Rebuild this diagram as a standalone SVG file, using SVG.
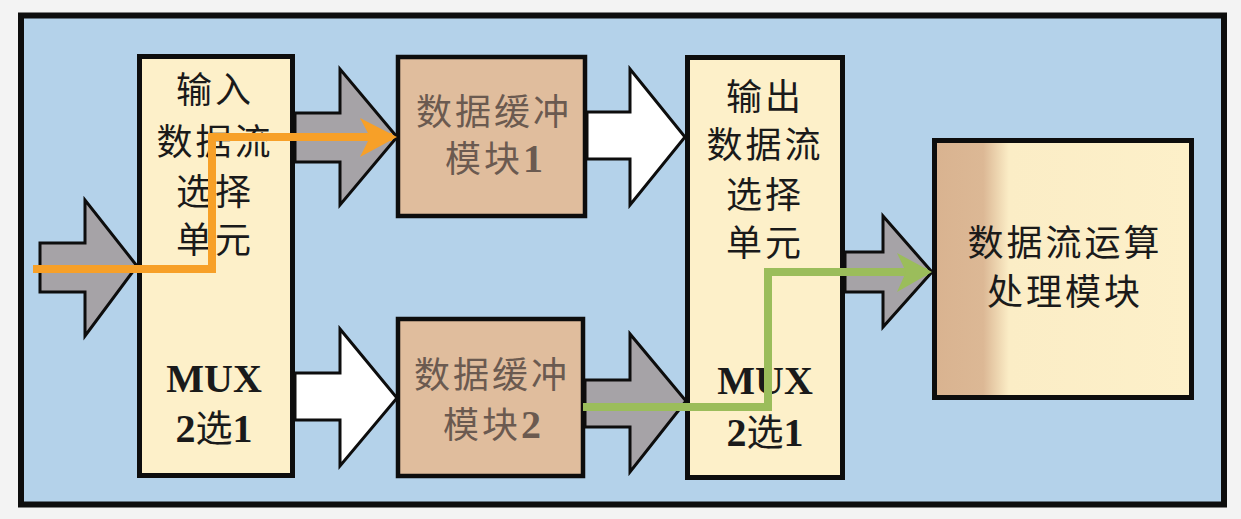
<svg xmlns="http://www.w3.org/2000/svg" width="1241" height="519" viewBox="0 0 1241 519">
  <style>
    .cjk { font-family: "Noto Sans CJK SC", "Noto Sans", sans-serif; font-size: 36px; letter-spacing: 3px; text-anchor: middle; }
    .mux { font-family: "Liberation Serif", serif; font-weight: bold; font-size: 40px; text-anchor: middle; }
    .dark { fill: #1a1a1a; }
    .soft { fill: #6b5a50; }
    .sel { fill: #fdf0c9; stroke: #0d0d0d; stroke-width: 5; }
    .buf { fill: #e0bd9d; stroke: #0d0d0d; stroke-width: 4.5; }
    .fat-gray { fill: #a6a3a7; stroke: #0d0d0d; stroke-width: 3; stroke-linejoin: miter; }
    .fat-white { fill: #ffffff; stroke: #0d0d0d; stroke-width: 3; stroke-linejoin: miter; }
    .path-orange { fill: none; stroke: #f7a028; stroke-width: 8; stroke-linejoin: miter; }
    .path-green { fill: none; stroke: #9bbd5b; stroke-width: 8; stroke-linejoin: miter; }
    .sym { font-family: "Noto Sans CJK SC", sans-serif; font-weight: normal; font-size: 37px; }
    .num { font-family: "Liberation Serif", serif; font-weight: bold; font-size: 40px; letter-spacing: 0; }
  </style>
  <defs>
    <linearGradient id="procFill" x1="0" y1="0" x2="1" y2="0">
      <stop offset="0" stop-color="#d9b390"/>
      <stop offset="0.19" stop-color="#dcb895"/>
      <stop offset="0.29" stop-color="#fbedc6"/>
      <stop offset="1" stop-color="#fdf0c9"/>
    </linearGradient>
  </defs>

  <!-- page and frame -->
  <rect x="0" y="0" width="1241" height="519" fill="#f3f3f3"/>
  <rect x="21" y="15.5" width="1203" height="489" fill="#b4d2ea" stroke="#0d0d0d" stroke-width="6"/>

  <g id="input-select">
    <rect class="sel" x="139.5" y="56.5" width="153" height="419"/>
    <text class="cjk dark" x="215" y="103">输入<tspan x="215" dy="52">数据流</tspan><tspan x="215" dy="50">选择</tspan><tspan x="215" dy="48">单元</tspan></text>
    <text class="mux dark" x="214" y="392">MUX<tspan x="214" dy="50">2<tspan class="sym">选</tspan>1</tspan></text>
  </g>

  <g id="buffer-1">
    <rect class="buf" x="398" y="57" width="187" height="159"/>
    <text class="cjk soft" x="494" y="125">数据缓冲<tspan x="494" dy="47">模块<tspan class="num">1</tspan></tspan></text>
  </g>

  <g id="buffer-2">
    <rect class="buf" x="398" y="319" width="185" height="157"/>
    <text class="cjk soft" x="492" y="388">数据缓冲<tspan x="492" dy="50">模块<tspan class="num">2</tspan></tspan></text>
  </g>

  <g id="output-select">
    <rect class="sel" x="687.5" y="57.5" width="155" height="420"/>
    <text class="cjk dark" x="765" y="110">输出<tspan x="765" dy="48">数据流</tspan><tspan x="765" dy="50">选择</tspan><tspan x="765" dy="48">单元</tspan></text>
    <text class="mux dark" x="765" y="394">MUX<tspan x="765" dy="52">2<tspan class="sym">选</tspan>1</tspan></text>
  </g>

  <g id="processing">
    <rect x="934.5" y="140.5" width="257" height="257" fill="url(#procFill)" stroke="#0d0d0d" stroke-width="5"/>
    <text class="cjk dark" x="1065" y="256">数据流运算<tspan x="1065" dy="49">处理模块</tspan></text>
  </g>

  <!-- block arrows between units, with the two selected routes drawn over them -->
  <g id="connectors">
    <!-- input into the input selector -->
    <polygon class="fat-gray" points="40,243 85,243 85,200 137,266 85,336 85,292 40,292"/>
    <!-- input selector to buffer 1 -->
    <polygon class="fat-gray" points="295,113 340,113 340,69 397,137 340,205 340,162 295,162"/>
    <!-- input selector to buffer 2 -->
    <polygon class="fat-white" points="295,373 340,373 340,329 397,398 340,466 340,420 295,420"/>
    <!-- buffer 1 to output selector -->
    <polygon class="fat-white" points="587,112 630,112 630,69 685,137 630,205 630,159 587,159"/>
    <!-- buffer 2 to output selector -->
    <polygon class="fat-gray" points="585,380 630,380 630,334 686,401 630,472 630,427 585,427"/>
    <!-- output selector to processing module -->
    <polygon class="fat-gray" points="845,252 883,252 883,216 932,272 883,327 883,292 845,292"/>

    <!-- route through buffer 1 -->
    <polyline class="path-orange" points="33,269 212,269 212,137 392,137"/>
    <polygon points="397,137 360,118 370,137 360,157" fill="#f7a028"/>
    <!-- route out of buffer 2 -->
    <polyline class="path-green" points="583,407 768,407 768,272 927,272"/>
    <polygon points="932,272 897,253 906,272 897,292" fill="#9bbd5b"/>
  </g>
</svg>
